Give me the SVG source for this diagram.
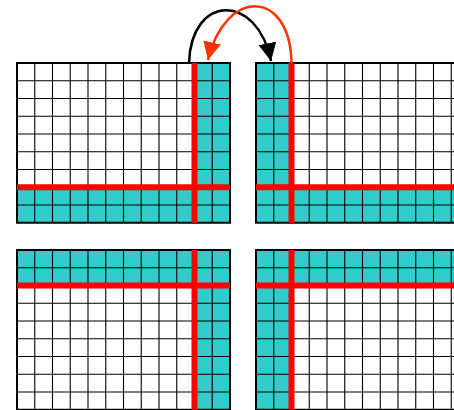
<svg xmlns="http://www.w3.org/2000/svg" xmlns:xlink="http://www.w3.org/1999/xlink" width="454" height="410" viewBox="0 0 454 410">
  <style>
    .cell { fill: #ffffff; }
    .teal { fill: #33cccc; }
    .lines { fill: none; stroke: #000000; stroke-width: 1.1; }
    .border { fill: none; stroke: #000000; stroke-width: 2; }
    .red { stroke: #ff0000; stroke-width: 6; fill: none; }
  </style>
  <defs>
    <path id="gridlines" class="lines" d="M17.75,0V159.75M35.5,0V159.75M53.25,0V159.75M71,0V159.75M88.75,0V159.75M106.5,0V159.75M124.25,0V159.75M142,0V159.75M159.75,0V159.75M177.5,0V159.75M195.25,0V159.75M0,17.75H213M0,35.5H213M0,53.25H213M0,71H213M0,88.75H213M0,106.5H213M0,124.25H213M0,142H213"/>
    <marker id="arrowBlack" markerUnits="userSpaceOnUse" markerWidth="18" markerHeight="18" viewBox="0 0 16 16" refX="16" refY="8" orient="auto">
      <path d="M0,0L16,8L0,16Z" fill="#000000"/>
    </marker>
    <marker id="arrowRed" markerUnits="userSpaceOnUse" markerWidth="18" markerHeight="18" viewBox="0 0 16 16" refX="16" refY="8" orient="auto">
      <path d="M0,0L16,8L0,16Z" fill="#ff3300"/>
    </marker>
  </defs>
  <rect width="454" height="410" fill="#ffffff"/>

  <g id="grid-top-left" transform="translate(17,63)">
    <rect class="cell" width="213" height="159.75"/>
    <rect class="teal" x="177.5" y="0" width="35.5" height="159.75"/>
    <rect class="teal" x="0" y="124.25" width="213" height="35.5"/>
    <use xlink:href="#gridlines" href="#gridlines"/>
    <rect class="border" width="213" height="159.75"/>
    <path class="red" d="M177.5,0V159.75M0,124.25H213"/>
  </g>

  <g id="grid-top-right" transform="translate(256,63)">
    <rect class="cell" width="213" height="159.75"/>
    <rect class="teal" x="0" y="0" width="35.5" height="159.75"/>
    <rect class="teal" x="0" y="124.25" width="213" height="35.5"/>
    <use xlink:href="#gridlines" href="#gridlines"/>
    <rect class="border" width="213" height="159.75"/>
    <path class="red" d="M35.5,0V159.75M0,124.25H213"/>
  </g>

  <g id="grid-bottom-left" transform="translate(17,250)">
    <rect class="cell" width="213" height="159.75"/>
    <rect class="teal" x="177.5" y="0" width="35.5" height="159.75"/>
    <rect class="teal" x="0" y="0" width="213" height="35.5"/>
    <use xlink:href="#gridlines" href="#gridlines"/>
    <rect class="border" width="213" height="159.75"/>
    <path class="red" d="M177.5,0V159.75M0,35.5H213"/>
  </g>

  <g id="grid-bottom-right" transform="translate(256,250)">
    <rect class="cell" width="213" height="159.75"/>
    <rect class="teal" x="0" y="0" width="35.5" height="159.75"/>
    <rect class="teal" x="0" y="0" width="213" height="35.5"/>
    <use xlink:href="#gridlines" href="#gridlines"/>
    <rect class="border" width="213" height="159.75"/>
    <path class="red" d="M35.5,0V159.75M0,35.5H213"/>
  </g>

  <g id="connectors">
    <path d="M189,63 C191,-6 257,-8 271,61" fill="none" stroke="#000000" stroke-width="2.5" marker-end="url(#arrowBlack)"/>
    <path d="M291.5,63 C290,-12 225,-12 208,60" fill="none" stroke="#ff3300" stroke-width="2.5" marker-end="url(#arrowRed)"/>
  </g>
</svg>
